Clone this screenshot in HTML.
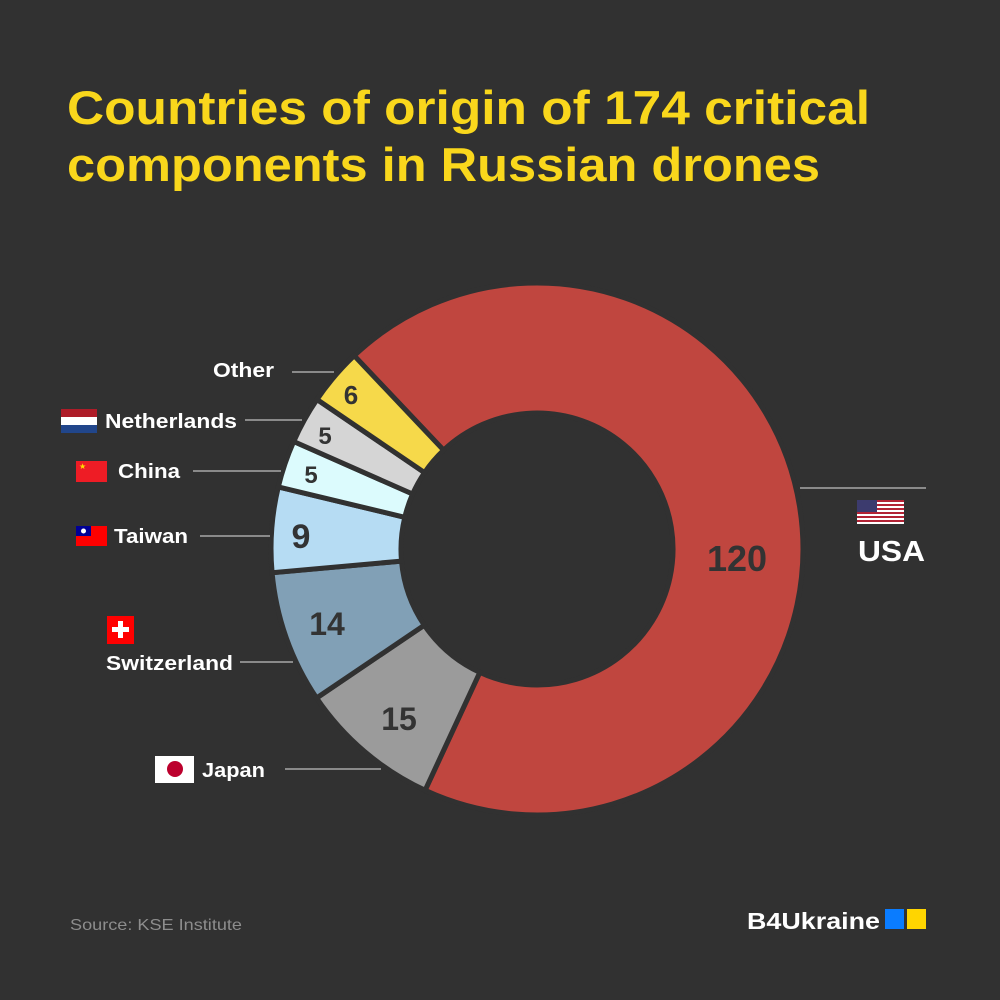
<!DOCTYPE html>
<html><head><meta charset="utf-8"><style>
body{margin:0;background:#313131;}
svg{display:block;font-family:"Liberation Sans",sans-serif;}
</style></head><body>
<svg width="1000" height="1000" viewBox="0 0 1000 1000">
<rect width="1000" height="1000" fill="#313131"/>
<text x="67" y="124" font-size="47" font-weight="bold" fill="#f9d71c" textLength="803" lengthAdjust="spacingAndGlyphs">Countries of origin of 174 critical</text>
<text x="67" y="181" font-size="47" font-weight="bold" fill="#f9d71c" textLength="753" lengthAdjust="spacingAndGlyphs">components in Russian drones</text>
<g stroke="#313131" stroke-width="5" stroke-linejoin="miter">
<path d="M354.2,355.7 A266,266 0 1 1 425.1,790.3 L479.8,672.4 A136,136 0 1 0 443.6,450.2 Z" fill="#c0463f"/>
<path d="M425.1,790.3 A266,266 0 0 1 316.6,698.0 L424.3,625.2 A136,136 0 0 0 479.8,672.4 Z" fill="#9b9b9b"/>
<path d="M316.6,698.0 A266,266 0 0 1 272.1,572.7 L401.5,561.1 A136,136 0 0 0 424.3,625.2 Z" fill="#81a0b6"/>
<path d="M272.1,572.7 A266,266 0 0 1 278.3,486.9 L404.8,517.3 A136,136 0 0 0 401.5,561.1 Z" fill="#b6dcf3"/>
<path d="M278.3,486.9 A266,266 0 0 1 293.7,441.5 L412.6,494.0 A136,136 0 0 0 404.8,517.3 Z" fill="#dcfbfd"/>
<path d="M293.7,441.5 A266,266 0 0 1 317.0,399.5 L424.5,472.6 A136,136 0 0 0 412.6,494.0 Z" fill="#d5d5d5"/>
<path d="M317.0,399.5 A266,266 0 0 1 354.2,355.7 L443.6,450.2 A136,136 0 0 0 424.5,472.6 Z" fill="#f6d94a"/>
</g>
<g fill="#333" font-weight="bold" text-anchor="middle">
<text x="737" y="571" font-size="36">120</text>
<text x="399" y="730" font-size="32">15</text>
<text x="327" y="635" font-size="32">14</text>
<text x="301" y="548" font-size="34">9</text>
<text x="311" y="483" font-size="24">5</text>
<text x="325" y="444" font-size="24">5</text>
<text x="351" y="404" font-size="26">6</text>
</g>
<g stroke="#a8a8a8" stroke-width="1.6">
<line x1="292" y1="372" x2="334" y2="372"/>
<line x1="245" y1="420" x2="302" y2="420"/>
<line x1="193" y1="471" x2="281" y2="471"/>
<line x1="200" y1="536" x2="270" y2="536"/>
<line x1="240" y1="662" x2="293" y2="662"/>
<line x1="285" y1="769" x2="381" y2="769"/>
<line x1="800" y1="488" x2="926" y2="488"/>
</g>
<g fill="#fff" font-weight="bold" font-size="20" lengthAdjust="spacingAndGlyphs">
<text x="213" y="377" textLength="61" lengthAdjust="spacingAndGlyphs">Other</text>
<text x="105" y="428" textLength="132" lengthAdjust="spacingAndGlyphs">Netherlands</text>
<text x="118" y="478" textLength="62" lengthAdjust="spacingAndGlyphs">China</text>
<text x="114" y="543" textLength="74" lengthAdjust="spacingAndGlyphs">Taiwan</text>
<text x="106" y="670" textLength="127" lengthAdjust="spacingAndGlyphs">Switzerland</text>
<text x="202" y="777" textLength="63" lengthAdjust="spacingAndGlyphs">Japan</text>
<text x="858" y="561" font-size="29" textLength="67" lengthAdjust="spacingAndGlyphs">USA</text>
</g>
<!-- flags -->
<rect x="61" y="409" width="36" height="8" fill="#ae1c28"/>
<rect x="61" y="417" width="36" height="8" fill="#fff"/>
<rect x="61" y="425" width="36" height="8" fill="#21468b"/>
<rect x="76" y="461" width="31" height="21" fill="#ee1c25"/>
<text x="79" y="469" font-size="8" fill="#ffde00">★</text>
<rect x="76" y="526" width="31" height="20" fill="#fe0000"/>
<rect x="76" y="526" width="15" height="10" fill="#000095"/>
<circle cx="83.5" cy="531" r="2.5" fill="#fff"/>
<rect x="107" y="616" width="27" height="28" fill="#ff0000"/>
<rect x="118" y="621" width="5" height="17" fill="#fff"/>
<rect x="112" y="627" width="17" height="5" fill="#fff"/>
<rect x="155" y="756" width="39" height="27" fill="#fff"/>
<circle cx="175" cy="769" r="8" fill="#bc002d"/>
<g>
<rect x="857" y="500" width="47" height="24" fill="#fff"/>
<rect x="857" y="500" width="47" height="2" fill="#b22234"/>
<rect x="857" y="504" width="47" height="2" fill="#b22234"/>
<rect x="857" y="508" width="47" height="2" fill="#b22234"/>
<rect x="857" y="512" width="47" height="2" fill="#b22234"/>
<rect x="857" y="516" width="47" height="2" fill="#b22234"/>
<rect x="857" y="520" width="47" height="2" fill="#b22234"/>
<rect x="857" y="500" width="20" height="12" fill="#3c3b6e"/>
</g>
<text x="70" y="930" font-size="16" fill="#8d8d8d" textLength="172" lengthAdjust="spacingAndGlyphs">Source: KSE Institute</text>
<text x="747" y="929" font-size="23" font-weight="bold" fill="#fff" textLength="133" lengthAdjust="spacingAndGlyphs">B4Ukraine</text>
<rect x="885" y="909" width="19" height="20" fill="#0a7cff"/>
<rect x="907" y="909" width="19" height="20" fill="#ffd500"/>
</svg>
</body></html>
